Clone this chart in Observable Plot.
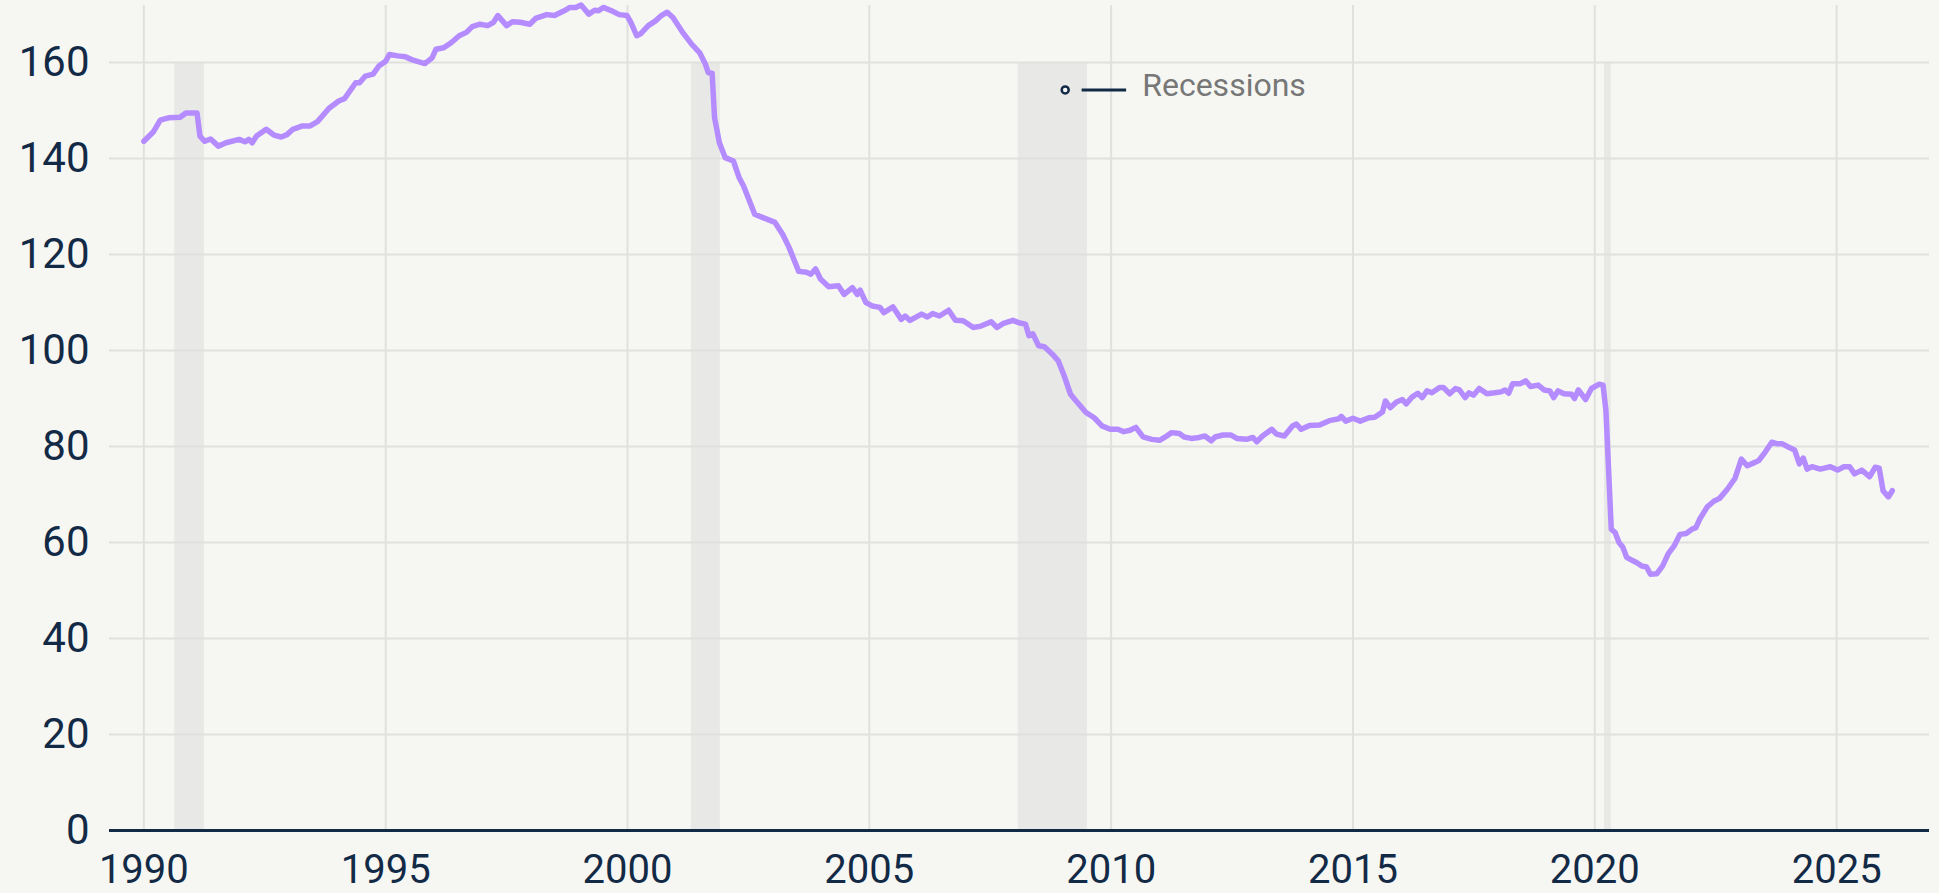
<!DOCTYPE html>
<html><head><meta charset="utf-8">
<script src="https://cdn.jsdelivr.net/npm/d3@7"></script>
<script src="https://cdn.jsdelivr.net/npm/@observablehq/plot@0.6"></script>
<style>
html,body{margin:0;padding:0;background:#f6f7f3;overflow:hidden;}
#chart svg{display:block;}
</style></head><body><div id="chart"></div>
<script>
const years = [1990.00,1990.20,1990.34,1990.51,1990.75,1990.87,1991.10,1991.16,1991.26,1991.38,1991.54,1991.70,1991.97,1992.09,1992.17,1992.24,1992.33,1992.53,1992.69,1992.84,1992.96,1993.08,1993.28,1993.44,1993.59,1993.83,1994.03,1994.15,1994.38,1994.46,1994.58,1994.74,1994.86,1995.00,1995.08,1995.25,1995.41,1995.57,1995.81,1995.96,1996.04,1996.20,1996.36,1996.52,1996.67,1996.79,1996.95,1997.11,1997.23,1997.32,1997.50,1997.62,1997.78,1997.98,1998.10,1998.33,1998.49,1998.69,1998.81,1998.93,1999.04,1999.20,1999.32,1999.40,1999.50,1999.67,1999.83,1999.99,2000.07,2000.19,2000.27,2000.43,2000.58,2000.70,2000.82,2000.94,2001.14,2001.33,2001.49,2001.61,2001.67,2001.75,2001.80,2001.90,2002.02,2002.19,2002.31,2002.40,2002.51,2002.63,2002.80,2003.05,2003.21,2003.34,2003.42,2003.54,2003.70,2003.79,2003.89,2003.99,2004.16,2004.36,2004.48,2004.65,2004.75,2004.81,2004.93,2005.06,2005.22,2005.30,2005.49,2005.66,2005.74,2005.84,2006.08,2006.20,2006.31,2006.45,2006.64,2006.78,2006.94,2007.15,2007.31,2007.52,2007.64,2007.76,2007.97,2008.09,2008.23,2008.30,2008.38,2008.50,2008.62,2008.79,2008.91,2009.03,2009.16,2009.24,2009.36,2009.48,2009.65,2009.81,2009.98,2010.14,2010.26,2010.39,2010.51,2010.66,2010.84,2011.00,2011.12,2011.25,2011.41,2011.51,2011.66,2011.82,2011.94,2012.07,2012.15,2012.31,2012.48,2012.60,2012.80,2012.93,2013.01,2013.13,2013.32,2013.42,2013.58,2013.75,2013.83,2013.93,2014.10,2014.31,2014.51,2014.71,2014.76,2014.85,2015.00,2015.15,2015.33,2015.45,2015.61,2015.67,2015.77,2015.90,2016.02,2016.10,2016.22,2016.34,2016.43,2016.53,2016.63,2016.79,2016.87,2017.00,2017.12,2017.20,2017.32,2017.40,2017.49,2017.61,2017.77,2017.93,2018.06,2018.14,2018.22,2018.30,2018.46,2018.57,2018.67,2018.83,2018.95,2019.07,2019.15,2019.24,2019.36,2019.52,2019.58,2019.66,2019.81,2019.93,2020.09,2020.17,2020.23,2020.34,2020.42,2020.50,2020.58,2020.66,2020.77,2020.87,2020.97,2021.07,2021.15,2021.28,2021.40,2021.52,2021.64,2021.76,2021.89,2022.01,2022.09,2022.17,2022.33,2022.46,2022.58,2022.74,2022.90,2023.03,2023.15,2023.31,2023.39,2023.52,2023.66,2023.76,2023.87,2024.00,2024.13,2024.23,2024.31,2024.39,2024.49,2024.66,2024.87,2025.02,2025.15,2025.27,2025.37,2025.52,2025.68,2025.80,2025.88,2025.96,2026.07,2026.15];
const values = [143.6,145.6,148.0,148.5,148.6,149.5,149.5,144.7,143.6,144.1,142.6,143.3,144.0,143.5,144.0,143.3,144.7,146.1,144.9,144.5,145.0,146.1,146.8,146.8,147.7,150.5,152.0,152.5,155.8,155.8,157.2,157.6,159.3,160.3,161.7,161.4,161.2,160.5,159.8,161.0,162.8,163.1,164.2,165.6,166.3,167.5,168.0,167.7,168.4,169.8,167.7,168.5,168.4,168.0,169.2,170.0,169.8,170.8,171.5,171.5,172.0,170.1,170.9,170.8,171.5,170.8,170.0,169.8,168.4,165.6,166.0,167.7,168.7,169.8,170.5,169.4,166.3,163.8,162.1,159.7,157.9,157.8,148.5,143.3,140.2,139.5,136.0,134.3,131.5,128.4,127.7,126.7,124.2,121.5,119.5,116.5,116.3,115.9,117.0,114.9,113.3,113.5,111.7,113.1,111.7,112.6,110.0,109.3,109.0,107.9,109.1,106.5,107.2,106.3,107.6,107.0,107.7,107.2,108.4,106.3,106.2,104.8,105.1,106.0,104.8,105.6,106.3,105.8,105.5,103.1,103.5,101.0,100.8,99.2,97.8,94.7,90.9,89.9,88.5,87.1,86.0,84.3,83.6,83.6,83.1,83.4,84.0,82.0,81.5,81.3,82.0,82.9,82.7,82.0,81.7,81.9,82.2,81.2,82.0,82.4,82.4,81.7,81.5,81.9,81.0,82.2,83.6,82.6,82.2,84.3,84.7,83.6,84.4,84.5,85.4,85.8,86.3,85.3,85.9,85.3,86.0,86.1,87.2,89.5,88.1,89.3,89.8,88.9,90.3,91.1,90.2,91.6,91.2,92.3,92.3,91.0,92.1,91.8,90.2,91.2,90.7,92.1,91.0,91.2,91.4,91.8,91.1,93.1,93.1,93.7,92.5,92.8,91.8,91.6,90.2,91.6,91.0,90.9,90.0,91.8,89.8,92.1,93.0,92.8,87.5,62.8,62.1,60.0,59.0,56.9,56.3,55.8,55.1,54.9,53.4,53.5,55.1,57.7,59.3,61.7,61.9,62.8,63.1,64.9,67.5,68.6,69.2,71.1,73.4,77.4,76.0,76.7,77.1,78.8,80.9,80.6,80.6,79.9,79.3,76.4,77.6,75.3,75.8,75.3,75.8,75.1,75.8,75.8,74.3,75.1,73.7,75.7,75.5,70.8,69.5,70.8];

const recessionStart = [1990.64, 2001.32, 2008.08, 2020.20];
const recessionEnd   = [1991.25, 2001.92, 2009.51, 2020.34];
const recessionTop = 160;

const xTicks = [1990, 1995, 2000, 2005, 2010, 2015, 2020, 2025];
const yTicks = [0, 20, 40, 60, 80, 100, 120, 140, 160];

const annotationLabel = ["Recessions"];
const annotationX = [2009.05];
const annotationY = [154.3];
const leaderX1 = [2009.40];
const leaderX2 = [2010.32];

const series = years.map((t, i) => ({t, v: values[i]}));
const recessions = recessionStart.map((s, i) => ({x1: s, x2: recessionEnd[i], y2: recessionTop}));
const annotations = annotationLabel.map((label, i) => ({label, x: annotationX[i], y: annotationY[i], lx1: leaderX1[i], lx2: leaderX2[i]}));

const navy = "#132a46";
const bg = "#f6f7f3";

const chart = Plot.plot({
  width: 1939,
  height: 893,
  marginTop: 5,
  marginBottom: 63,
  marginLeft: 109,
  marginRight: 10,
  style: {background: bg, fontFamily: "Roboto, sans-serif", color: navy},
  x: {type: "linear", domain: [1989.29, 2026.92]},
  y: {domain: [0, 171.9]},
  marks: [
    Plot.rect(recessions, {x1: "x1", x2: "x2", y1: 0, y2: "y2", fill: "#e8e8e6"}),
    Plot.ruleY(yTicks, {stroke: "#e0e0de", strokeWidth: 2}),
    Plot.ruleX(xTicks, {stroke: "#e0e0de", strokeWidth: 2}),
    Plot.axisY(yTicks, {tickSize: 0, tickPadding: 20, fontSize: 42, label: null, tickFormat: d => String(d)}),
    Plot.axisX(xTicks, {tickSize: 0, tickPadding: 24, fontSize: 40, label: null, tickFormat: d => String(d)}),
    Plot.ruleY([0], {stroke: navy, strokeWidth: 3}),
    Plot.line(series, {x: "t", y: "v", stroke: "#b58cff", strokeWidth: 5.5, strokeLinejoin: "round", strokeLinecap: "round"}),
    Plot.ruleY(annotations, {y: "y", x1: "lx1", x2: "lx2", stroke: navy, strokeWidth: 3}),
    Plot.dot(annotations, {x: "x", y: "y", r: 3.5, stroke: navy, strokeWidth: 2.5, fill: bg}),
    Plot.text(annotations, {x: "x", y: "y", text: "label", textAnchor: "start", dx: 77, dy: -4, fontSize: 32, fill: "#777777"})
  ]
});
document.getElementById("chart").append(chart);
</script>
</body></html>
